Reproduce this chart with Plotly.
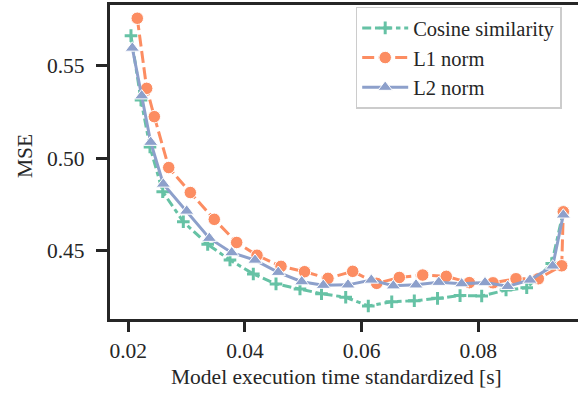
import plotly.graph_objects as go

# ---- data ----
cos_x = [0.02046, 0.02218, 0.02372, 0.02590, 0.02943, 0.03361, 0.03743, 0.04143, 0.04532, 0.04943, 0.05312,
         0.05727, 0.06114, 0.06516, 0.06903, 0.07301, 0.07687, 0.08058, 0.08475, 0.08830, 0.09259, 0.09457]
cos_y = [0.5663, 0.5315, 0.5061, 0.4819, 0.4657, 0.4535, 0.4450, 0.4375, 0.4321, 0.4294, 0.4268,
         0.4249, 0.4202, 0.4225, 0.4230, 0.4243, 0.4258, 0.4256, 0.4288, 0.4300, 0.4431, 0.4711]

l1_x = [0.02154, 0.02315, 0.02446, 0.02693, 0.03063, 0.03474, 0.03858, 0.04206, 0.04618, 0.05021, 0.05423,
        0.05847, 0.06258, 0.06646, 0.07047, 0.07451, 0.07846, 0.08252, 0.08646, 0.09029, 0.09430, 0.09457]
l1_y = [0.5757, 0.5378, 0.5225, 0.4950, 0.4815, 0.4670, 0.4545, 0.4476, 0.4416, 0.4387, 0.4351,
        0.4389, 0.4324, 0.4356, 0.4369, 0.4362, 0.4328, 0.4327, 0.4349, 0.4349, 0.4419, 0.4711]

l2_x = [0.02069, 0.02230, 0.02384, 0.02600, 0.03001, 0.03389, 0.03773, 0.04172, 0.04571, 0.04973, 0.05343,
        0.05766, 0.06166, 0.06543, 0.06932, 0.07323, 0.07715, 0.08115, 0.08504, 0.08886, 0.09275, 0.09457]
l2_y = [0.5596, 0.5338, 0.5087, 0.4861, 0.4715, 0.4568, 0.4490, 0.4450, 0.4384, 0.4333, 0.4314,
        0.4316, 0.4342, 0.4311, 0.4316, 0.4330, 0.4322, 0.4328, 0.4308, 0.4342, 0.4418, 0.4694]

series_names = ["Cosine similarity", "L1 norm", "L2 norm"]
x_ticks = [0.02, 0.04, 0.06, 0.08]
y_ticks = [0.45, 0.50, 0.55]
x_title = "Model execution time standardized [s]"
y_title = "MSE"

FONT = "Liberation Serif"
FS = 21.5
AX = "#262626"
GREEN, ORANGE, BLUE = "#66c2a5", "#fc8d62", "#8da0cb"
LW = 3
PAD = "\u00a0\u200a"

fig = go.Figure()
fig.add_trace(go.Scatter(
    x=cos_x, y=cos_y, name=series_names[0], mode="lines+markers",
    line=dict(color=GREEN, width=LW, dash="9px,3.75px,4.5px,3.75px"),
    marker=dict(symbol="cross-thin", size=9, color=GREEN, line=dict(color=GREEN, width=3)),
))
fig.add_trace(go.Scatter(
    x=l1_x, y=l1_y, name=series_names[1], mode="lines+markers",
    line=dict(color=ORANGE, width=LW, dash="12px,4.5px"),
    marker=dict(symbol="circle", size=12.5, color=ORANGE, line=dict(color="white", width=1)),
))
fig.add_trace(go.Scatter(
    x=l2_x, y=l2_y, name=series_names[2], mode="lines+markers",
    line=dict(color=BLUE, width=LW),
    marker=dict(symbol="triangle-up", size=12.5, color=BLUE, line=dict(color="white", width=1)),
))

fig.update_layout(
    width=578, height=402,
    margin=dict(l=110, r=0, t=5, b=83),
    paper_bgcolor="white", plot_bgcolor="white",
    font=dict(family=FONT, size=FS, color=AX),
    showlegend=True,
    legend=dict(
        x=0.525, y=0.995, xanchor="left", yanchor="top",
        bgcolor="rgba(255,255,255,0.85)", bordercolor="#cccccc", borderwidth=1.5,
        font=dict(family=FONT, size=20.5, color=AX),
        itemwidth=46, tracegroupgap=0,
    ),
    annotations=[
        dict(text=x_title, xref="paper", yref="paper", x=0.483, y=-0.184,
             xanchor="center", yanchor="middle", showarrow=False,
             font=dict(family=FONT, size=FS, color=AX)),
        dict(text=y_title, xref="paper", yref="paper", x=-0.1816, y=0.519,
             xanchor="center", yanchor="middle", showarrow=False, textangle=-90,
             font=dict(family=FONT, size=FS, color=AX)),
    ],
)
fig.update_xaxes(
    range=[0.016863, 0.09709],
    tickvals=x_ticks, ticktext=[f"{v:.2f}" for v in x_ticks],
    showgrid=False, zeroline=False,
    showline=True, linecolor=AX, linewidth=3, mirror=True,
    ticks="outside", ticklen=10, tickwidth=2.5, tickcolor=AX,
    tickfont=dict(family=FONT, size=FS, color=AX),
)
fig.update_yaxes(
    range=[0.41314, 0.58286],
    tickvals=y_ticks, ticktext=[f"{v:.2f}" + PAD for v in y_ticks],
    showgrid=False, zeroline=False,
    showline=True, linecolor=AX, linewidth=3, mirror=False,
    ticks="outside", ticklen=11, tickwidth=2.5, tickcolor=AX,
    tickfont=dict(family=FONT, size=FS, color=AX),
)

fig.write_html("out.html")
